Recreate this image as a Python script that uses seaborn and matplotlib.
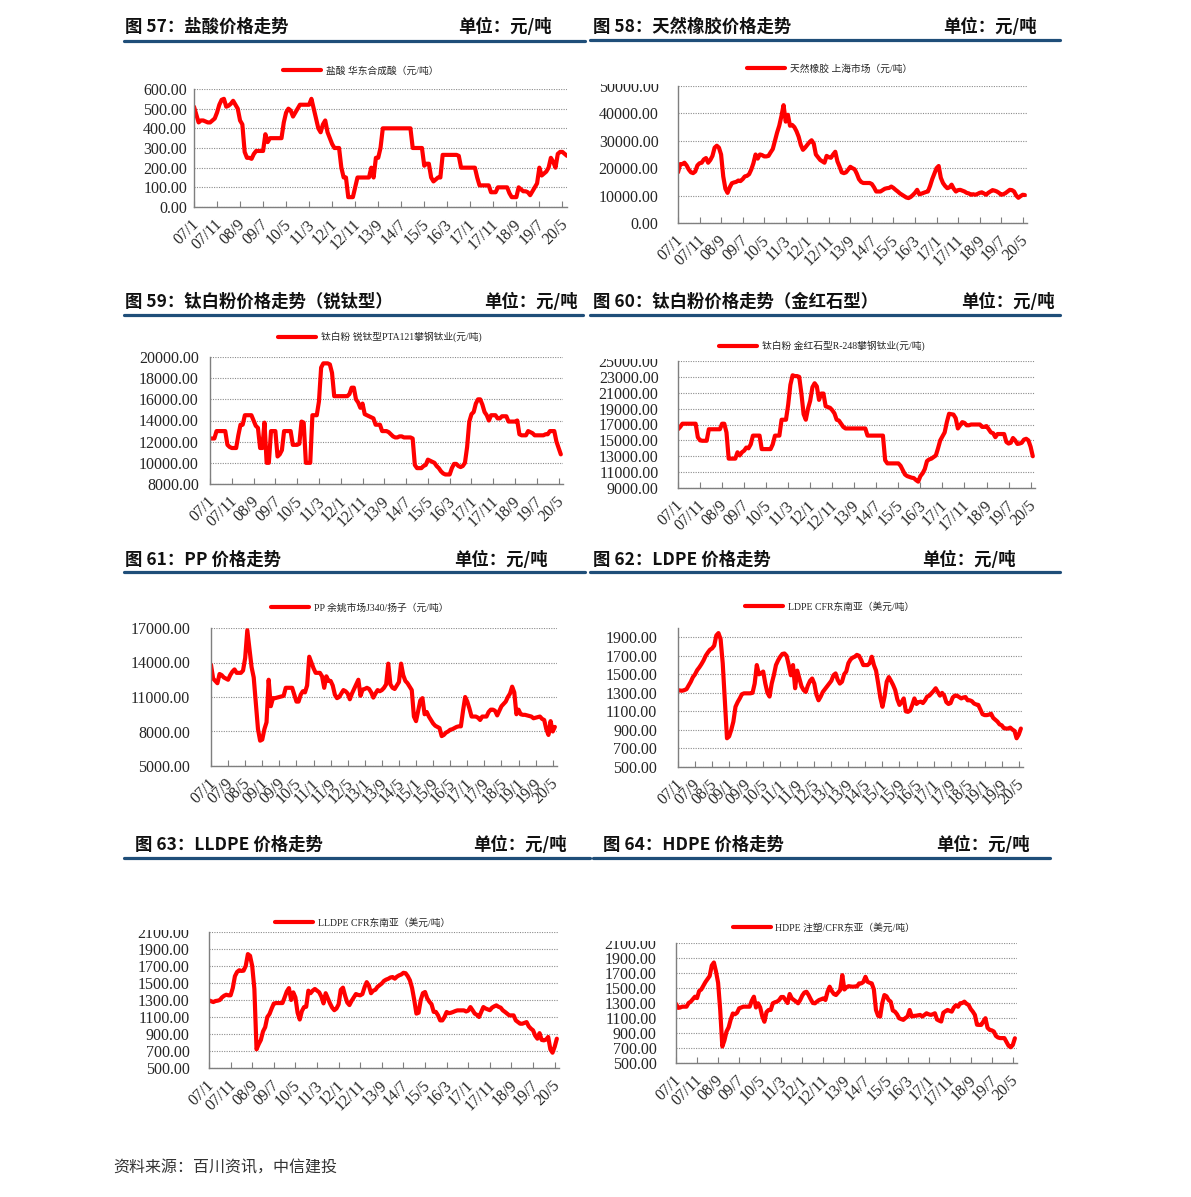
import numpy as np
import pandas as pd
import seaborn as sns
import matplotlib.pyplot as plt
from matplotlib.lines import Line2D
from matplotlib.transforms import Bbox, ScaledTranslation

"""
Data: monthly prices starting 2007/01 (read off the charts)
"""
hcl = [510, 470, 430, 440, 440, 435, 430, 430, 440, 450, 480, 520,
       545, 550, 510, 515, 525, 540, 520, 500, 440, 420, 280, 250,
       250, 245, 270, 285, 285, 285, 285, 370, 330, 350, 350, 350,
       350, 350, 350, 430, 480, 500, 490, 460, 480, 500, 520, 520,
       520, 520, 520, 550, 500, 450, 400, 380, 420, 440, 380, 350,
       320, 300, 300, 300, 200, 150, 150, 50, 50, 50, 100, 150,
       150, 150, 150, 150, 150, 200, 150, 250, 250, 300, 400, 400,
       400, 400, 400, 400, 400, 400, 400, 400, 400, 400, 400, 300,
       300, 300, 300, 300, 210, 220, 220, 150, 130, 140, 150, 150,
       265, 265, 265, 265, 265, 265, 265, 260, 200, 200, 200, 200,
       200, 200, 200, 150, 110, 110, 110, 110, 110, 75, 75, 75,
       100, 100, 100, 100, 100, 70, 50, 50, 50, 100, 90, 80,
       80, 75, 60, 80, 100, 120, 200, 160, 170, 180, 200, 250,
       230, 200, 270, 280, 280, 270, 260]

rubber = [18500, 21500, 21500, 22000, 21000, 19500, 18500, 18200, 18800, 21000, 21800, 22000,
          23200, 23700, 22000, 23000, 24500, 27500, 28200, 27500, 25000, 17000, 12500, 11000,
          13000, 14500, 14800, 15000, 15500, 15300, 16000, 17000, 17200, 17800, 19500, 21800,
          25000, 23500, 25000, 24800, 24300, 24300, 24500, 25800, 27000, 30000, 33000, 35500,
          39000, 43000, 37000, 39500, 35500, 35800, 35000, 33500, 31500, 28500, 26700, 27500,
          28500, 29500, 30200, 29000, 25000, 24000, 23000, 22500, 22000, 24500, 24000, 23800,
          25000, 26000, 22500, 20600, 18500, 18200, 18500, 19500, 20500, 20000, 19600, 18000,
          16000, 15000, 14600, 14600, 14600, 14600, 14200, 13000, 11500, 11500, 11500, 12000,
          12500, 12700, 12800, 13300, 12800, 12100, 11500, 10800, 10300, 9800, 9300, 9100,
          9500, 10200, 11000, 12100, 10500, 10700, 11000, 11300, 11500, 13500, 16000, 18000,
          20000, 20800, 16500, 14600, 13500, 12700, 13000, 14000, 12500, 11500, 12000, 12100,
          11800, 11500, 11000, 10800, 10300, 10500, 10300, 10600, 11000, 11200, 10800, 10300,
          11000, 11500, 12000, 11800, 11500, 11000, 10300, 10500, 10900, 11500, 12100, 12000,
          11500, 10000, 9200, 9800, 10300, 10200]

tio2_anatase = [12300, 12300, 12300, 13000, 13000, 13000, 13000, 13000, 11700, 11500, 11400, 11400,
                11400, 12600, 13600, 13600, 14500, 14500, 14500, 14500, 14000, 13500, 13300, 11400,
                11400, 13800, 10000, 10000, 13000, 13000, 13000, 10600, 10800, 11200, 13000, 13000,
                13000, 13000, 11700, 11700, 11700, 11800, 13900, 13800, 10000, 10000, 10000, 14500,
                14500, 14500, 15800, 19000, 19400, 19400, 19400, 19300, 18500, 16300, 16300, 16300,
                16300, 16300, 16300, 16300, 16500, 17100, 17100, 16000, 15700, 15200, 15600, 14600,
                14500, 14400, 14300, 14200, 13600, 13600, 13600, 13000, 13000, 13000, 12900, 12700,
                12500, 12400, 12400, 12500, 12500, 12400, 12400, 12400, 12400, 12300, 9800, 9500,
                9500, 9500, 9700, 9800, 10300, 10200, 10100, 10000, 9700, 9500, 9200, 9000,
                8900, 8900, 8900, 9500, 9900, 9900, 9700, 9600, 9700, 10000, 11500, 13900,
                14600, 14800, 15600, 16000, 16000, 15500, 14800, 14500, 14000, 14500, 14500, 14500,
                14200, 14200, 14400, 14400, 14400, 13900, 13900, 13900, 13900, 14000, 12700, 12600,
                12600, 12600, 13000, 12900, 12800, 12600, 12600, 12600, 12600, 12600, 12700, 12700,
                13000, 13000, 13000, 12000, 11400, 10800]

tio2_rutile = [16400, 16700, 17100, 17100, 17100, 17100, 17100, 17100, 17100, 15400, 15000, 14950,
               14950, 14950, 16400, 16400, 16400, 16400, 16400, 16400, 17100, 17100, 16000, 12700,
               12700, 12700, 12700, 13500, 13100, 13500, 13700, 14100, 14000, 14500, 15600, 15600,
               15600, 15600, 13900, 13900, 13900, 13900, 13900, 14500, 15600, 15600, 15600, 17600,
               17600, 17600, 19500, 22000, 23200, 23100, 23100, 23000, 20900, 18300, 17600, 19000,
               20000, 21700, 22200, 21800, 20100, 20900, 20900, 19300, 19200, 19100, 18800, 18400,
               17600, 17500, 17100, 16700, 16500, 16500, 16500, 16500, 16500, 16500, 16500, 16500,
               16500, 16500, 15600, 15600, 15600, 15600, 15600, 15600, 15600, 15600, 12500, 12100,
               12100, 12100, 12100, 12100, 12100, 11800, 11250, 10700, 10500, 10400, 10300, 10250,
               10000, 9800, 10500, 10850, 11400, 12400, 12600, 12700, 12900, 13100, 14000, 15000,
               15500, 16000, 17300, 18350, 18300, 18250, 17800, 16500, 16900, 17300, 17200, 16900,
               16900, 17000, 17000, 17000, 17000, 17000, 16700, 16700, 16800, 16400, 16000, 15900,
               15400, 15800, 15800, 15800, 15800, 14800, 14600, 14700, 15300, 15000, 14550, 14600,
               14700, 15100, 15200, 15000, 14200, 13000]

pp = [13800, 12600, 12400, 12200, 13000, 12900, 12700, 12600, 12500, 12900, 13200, 13400,
      13100, 13100, 13100, 13300, 14400, 16800, 15200, 13600, 12700, 10500, 8200, 7200,
      7300, 8200, 8800, 12500, 10200, 10900, 10900, 10950, 11000, 11050, 11100, 11800,
      11800, 11800, 11800, 11200, 10600, 10600, 11200, 11500, 11400, 12000, 14500, 14000,
      13500, 13100, 13100, 13100, 12800, 11800, 12800, 12400, 12400, 12000, 11200, 10900,
      11000, 11300, 11600, 11500, 11300, 10800, 11300, 11700, 12100, 12500, 11100, 11650,
      11700, 11800, 11700, 11400, 10950, 11300, 11600, 11500, 11600, 11800, 12100, 13900,
      12100, 11800, 11700, 12000, 12300, 13900, 12900, 12400, 12200, 11900, 11600, 9300,
      8900, 9800, 10700, 10900, 9500, 9700, 9300, 9000, 8700, 8500, 8400, 8300,
      7600, 7700, 7900, 8000, 8150, 8200, 8300, 8400, 8450, 8450, 9800, 11000,
      10600, 10000, 9300, 9300, 9300, 9200, 9000, 9300, 9300, 9300, 9700, 9900,
      9900, 9800, 9400, 9800, 10200, 10400, 10600, 11000, 11300, 11900, 11400, 9500,
      9900, 9500, 9450, 9450, 9400, 9350, 9300, 9150, 9200, 9250, 9300, 9100,
      9000, 8200, 7700, 8900, 8000, 8400]

ldpe = [1330, 1325, 1323, 1330, 1340, 1380, 1420, 1470, 1500, 1545, 1575, 1610,
        1650, 1700, 1735, 1765, 1780, 1810, 1920, 1945, 1880, 1620, 1205, 810,
        830, 900, 990, 1150, 1200, 1240, 1285, 1295, 1295, 1295, 1295, 1300,
        1400, 1600, 1500, 1510, 1530, 1400, 1300, 1260, 1400, 1490, 1600, 1650,
        1690, 1720, 1725, 1700, 1600, 1490, 1600, 1350, 1540, 1455, 1370, 1330,
        1310, 1380, 1430, 1455, 1400, 1280, 1220, 1260, 1310, 1340, 1370, 1400,
        1430, 1490, 1510, 1440, 1400, 1420, 1500, 1530, 1620, 1660, 1680, 1690,
        1710, 1700, 1655, 1600, 1600, 1600, 1620, 1690, 1600, 1540, 1400, 1250,
        1150, 1260, 1420, 1470, 1430, 1385, 1330, 1230, 1170, 1200, 1240, 1100,
        1095, 1110, 1170, 1240, 1180, 1200, 1205, 1190, 1220, 1260, 1270, 1295,
        1320, 1350, 1310, 1270, 1300, 1270, 1200, 1180, 1190, 1250, 1270, 1270,
        1255, 1240, 1250, 1255, 1220, 1220, 1210, 1185, 1175, 1170, 1120, 1070,
        1060, 1060, 1065, 1075, 1030, 1010, 990, 960, 950, 920, 915, 915,
        925, 905, 890, 810, 850, 915]

lldpe = [1296, 1285, 1276, 1288, 1292, 1300, 1330, 1350, 1362, 1355, 1355, 1440,
         1580, 1630, 1650, 1642, 1645, 1700, 1840, 1820, 1700, 1430, 720, 780,
         830, 930, 980, 1100, 1135, 1200, 1258, 1264, 1264, 1264, 1264, 1330,
         1400, 1440, 1300, 1390, 1330, 1150, 1070, 1170, 1217, 1220, 1410, 1380,
         1410, 1430, 1410, 1390, 1340, 1260, 1380, 1320, 1260, 1210, 1180, 1200,
         1250, 1420, 1445, 1350, 1270, 1240, 1290, 1330, 1370, 1360, 1355, 1370,
         1450, 1510, 1470, 1380, 1410, 1420, 1455, 1475, 1495, 1525, 1540, 1550,
         1565, 1570, 1551, 1575, 1590, 1600, 1620, 1615, 1580, 1531, 1440, 1300,
         1140, 1150, 1300, 1380, 1394, 1320, 1280, 1250, 1160, 1160, 1120, 1060,
         1060, 1100, 1159, 1145, 1150, 1159, 1170, 1178, 1178, 1178, 1178, 1165,
         1175, 1217, 1180, 1140, 1125, 1100, 1160, 1217, 1200, 1190, 1180, 1210,
         1225, 1237, 1220, 1210, 1178, 1160, 1139, 1119, 1119, 1119, 1060, 1040,
         1021, 1021, 1030, 1040, 990, 963, 943, 880, 845, 910, 830, 825,
         835, 865, 720, 680, 750, 845]

hdpe = [1290, 1235, 1240, 1251, 1251, 1251, 1300, 1318, 1350, 1384, 1365, 1460,
        1480, 1530, 1580, 1620, 1660, 1800, 1840, 1720, 1570, 1210, 720, 800,
        920, 975, 1080, 1160, 1150, 1170, 1229, 1240, 1251, 1251, 1251, 1251,
        1330, 1384, 1240, 1296, 1240, 1120, 1050, 1180, 1207, 1207, 1296, 1310,
        1318, 1340, 1380, 1380, 1340, 1300, 1420, 1362, 1340, 1320, 1296, 1340,
        1400, 1440, 1450, 1406, 1350, 1300, 1296, 1320, 1340, 1350, 1362, 1340,
        1450, 1517, 1460, 1420, 1406, 1440, 1472, 1671, 1480, 1510, 1525, 1520,
        1517, 1520, 1520, 1561, 1561, 1580, 1649, 1583, 1570, 1561, 1480, 1207,
        1130, 1119, 1300, 1406, 1390, 1340, 1318, 1200, 1185, 1150, 1097, 1085,
        1075, 1100, 1120, 1207, 1120, 1128, 1130, 1135, 1141, 1119, 1140, 1163,
        1150, 1141, 1150, 1163, 1080, 1065, 1053, 1170, 1190, 1207, 1195, 1185,
        1240, 1270, 1250, 1296, 1300, 1318, 1290, 1274, 1220, 1185, 1141, 1010,
        1008, 1008, 1053, 1097, 970, 942, 935, 920, 860, 840, 832, 832,
        832, 780, 730, 710, 740, 830]

# tick labels
xlab_10 = ['07/1', '07/11', '08/9', '09/7', '10/5', '11/3', '12/1', '12/11', '13/9',
           '14/7', '15/5', '16/3', '17/1', '17/11', '18/9', '19/7', '20/5']
xlab_8 = ['07/1', '07/9', '08/5', '09/1', '09/9', '10/5', '11/1', '11/9', '12/5', '13/1',
          '13/9', '14/5', '15/1', '15/9', '16/5', '17/1', '17/9', '18/5', '19/1', '19/9', '20/5']

yt_hcl = [0, 100, 200, 300, 400, 500, 600]
yt_rubber = [0, 10000, 20000, 30000, 40000, 50000]
yt_anatase = [8000, 10000, 12000, 14000, 16000, 18000, 20000]
yt_rutile = [9000, 11000, 13000, 15000, 17000, 19000, 21000, 23000, 25000]
yt_pp = [5000, 8000, 11000, 14000, 17000]
yt_ldpe = [500, 700, 900, 1100, 1300, 1500, 1700, 1900]
yt_lldpe = [500, 700, 900, 1100, 1300, 1500, 1700, 1900, 2100]
yt_hdpe = [500, 700, 900, 1100, 1300, 1500, 1700, 1900, 2100]

"""
Style
"""
sns.set_theme(style='white')
plt.rcParams['font.family'] = ['Liberation Serif', 'Noto Sans CJK SC', 'DejaVu Sans']
plt.rcParams['axes.unicode_minus'] = False

W, H = 1191, 1197
fig = plt.figure(figsize=(W / 100, H / 100), dpi=100)

RED = '#FF0000'
BLUE = '#1F4E79'
CJK = ['Noto Sans CJK SC', 'DejaVu Sans']
TICK_FS = 11.5


def month_pos(lbl):
    yy, mm = lbl.split('/')
    return (int(yy) - 7) * 12 + int(mm) - 1


def header(title, x0, y, xr, ly, lx0, lx1):
    fig.text(x0 / W, 1 - y / H, title, fontsize=12.5, fontweight='bold',
             family=CJK, va='center', ha='left', color='#111111')
    fig.text(xr / W, 1 - y / H, '单位：元/吨', fontsize=12.5, fontweight='bold',
             family=CJK, va='center', ha='right', color='#111111')
    fig.add_artist(Line2D([lx0 / W, lx1 / W], [1 - ly / H, 1 - ly / H],
                          transform=fig.transFigure, color=BLUE, lw=2.3))


def panel(box, values, name, yticks, ylim, xlabels, ypad, leg, clip_top=False):
    l, t, r, b = box
    ax = fig.add_axes([l / W, 1 - b / H, (r - l) / W, (b - t) / H])
    df = pd.DataFrame({'month': np.arange(len(values)), 'price': values})
    sns.lineplot(data=df, x='month', y='price', ax=ax, color=RED,
                 linewidth=3, label=name, legend=False)
    ax.set_xlim(0, 162)
    ax.set_ylim(*ylim)
    ax.set_yticks(yticks)
    ax.set_yticklabels([f'{v:.2f}' for v in yticks])
    ax.set_xticks([month_pos(s) for s in xlabels])
    ax.set_xticklabels(xlabels, rotation=45, ha='right', rotation_mode='anchor', va='center')
    ax.set_xlabel('')
    ax.set_ylabel('')
    ax.yaxis.grid(True, color='#8c8c8c', linestyle=(0, (1, 1.2)), linewidth=0.8)
    ax.xaxis.grid(False)
    for s in ['top', 'right']:
        ax.spines[s].set_visible(False)
    for s in ['left', 'bottom']:
        ax.spines[s].set_color('#7f7f7f')
        ax.spines[s].set_linewidth(1)
    ax.tick_params(axis='x', direction='in', length=4, width=0.8, color='#7f7f7f',
                   labelsize=TICK_FS, pad=11, bottom=True)
    ax.tick_params(axis='y', length=0, pad=ypad, labelsize=TICK_FS, left=True)
    for lbl in ax.get_xticklabels():
        lbl.set_transform(lbl.get_transform() + ScaledTranslation(0.03, 0, fig.dpi_scale_trans))
    ax.legend(loc='center', bbox_to_anchor=(leg[0] / W, 1 - leg[1] / H),
              bbox_transform=fig.transFigure, frameon=False, fontsize=7,
              handlelength=3.9, handletextpad=0.5, borderpad=0)
    if clip_top:
        top_lbl = ax.get_yticklabels()[-1]
        top_lbl.set_clip_box(Bbox([[0, 0], [W, H - t + 2]]))
        top_lbl.set_clip_on(True)
    return ax


header('图 57：盐酸价格走势', 125, 27, 552, 41, 124, 585)
header('图 58：天然橡胶价格走势', 593, 27, 1037, 40, 590, 1060)
header('图 59：钛白粉价格走势（锐钛型）', 125, 302, 578, 315, 124, 583)
header('图 60：钛白粉价格走势（金红石型）', 593, 302, 1055, 315, 590, 1060)
header('图 61：PP 价格走势', 125, 560, 548, 572, 124, 585)
header('图 62：LDPE 价格走势', 593, 560, 1016, 572, 590, 1060)
header('图 63：LLDPE 价格走势', 135, 845, 567, 858, 124, 590)
header('图 64：HDPE 价格走势', 603, 845, 1030, 858, 593, 1050)

panel((194, 89, 567, 207), hcl, '盐酸 华东合成酸（元/吨）', yt_hcl, (0, 600),
      xlab_10, 5, (361, 71))
panel((678, 86, 1027, 223), rubber, '天然橡胶 上海市场（元/吨）', yt_rubber, (0, 50000),
      xlab_10, 14, (830, 69), clip_top=True)
panel((210, 357, 563, 484), tio2_anatase, '钛白粉 锐钛型PTA121攀钢钛业(元/吨)', yt_anatase,
      (8000, 20000), xlab_10, 8, (380, 337))
panel((678, 361, 1035, 488), tio2_rutile, '钛白粉 金红石型R-248攀钢钛业(元/吨)', yt_rutile,
      (9000, 25000), xlab_10, 14, (822, 346), clip_top=True)
panel((211, 628, 557, 766), pp, 'PP 余姚市场J340/扬子（元/吨）', yt_pp, (5000, 17000),
      xlab_8, 15, (360, 608))
panel((678, 628, 1023, 767), ldpe, 'LDPE CFR东南亚（美元/吨）', yt_ldpe, (500, 2000),
      xlab_8, 15, (830, 607))
panel((209, 932, 559, 1068), lldpe, 'LLDPE CFR东南亚（美元/吨）', yt_lldpe, (500, 2100),
      xlab_10, 14, (363, 923), clip_top=True)
panel((676, 943, 1017, 1063), hdpe, 'HDPE 注塑/CFR东亚（美元/吨）', yt_hdpe, (500, 2100),
      xlab_10, 14, (824, 928), clip_top=True)

fig.text(113 / W, 1 - 1168 / H, '资料来源：百川资讯，中信建投', fontsize=11.5,
         style='italic', family=CJK, color='#333333', va='center', ha='left')

fig.savefig('out.png', dpi=100)
